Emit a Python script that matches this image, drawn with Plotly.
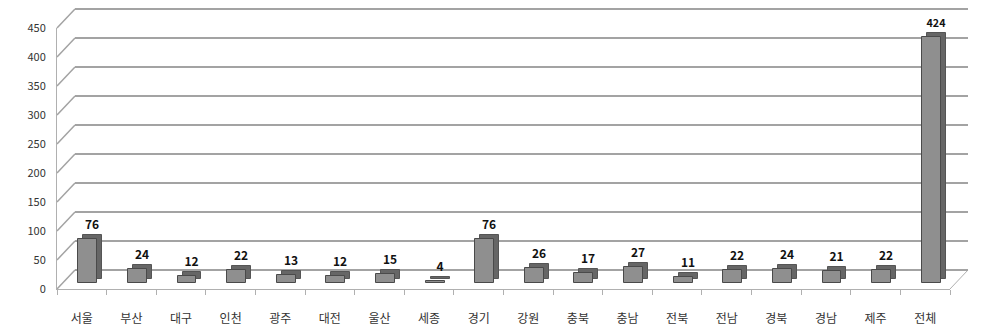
import plotly.graph_objects as go

# ---- data ----
regions = ["서울", "부산", "대구", "인천", "광주", "대전", "울산", "세종", "경기",
           "강원", "충북", "충남", "전북", "전남", "경북", "경남", "제주", "전체"]
counts = [76, 24, 12, 22, 13, 12, 15, 4, 76, 26, 17, 27, 11, 22, 24, 21, 22, 424]
y_ticks = list(range(0, 451, 50))

W, H = 981, 330
YMAX = 450
YMAX_BACK = 460  # headroom so the 450 gridline is drawn

def px_x(p):
    return p / W

def px_y(p):
    return 1 - p / H

# geometry (pixels): front axis plane, back wall plane, bar front/depth planes
FRONT = dict(x0=57, x1=950, ybot=289, ytop=28)
BACK = dict(x0=75, x1=968, ybot=270, ytop=9)
FACE = dict(x0=63, x1=956, ybot=283, ytop=22)
DEPTH = dict(x0=68, x1=961, ybot=279, ytop=18)

def dom(g, vmax=YMAX):
    span = (g["ybot"] - g["ytop"]) * vmax / YMAX
    return [px_x(g["x0"]), px_x(g["x1"])], [px_y(g["ybot"]), px_y(g["ybot"] - span)]

FONT = "Noto Sans CJK KR"
GRID = "#a3a3a3"
AXC = "#b0b0b0"

fig = go.Figure()

# depth (side/top) of bars
fig.add_trace(go.Bar(x=regions, y=counts, xaxis="x3", yaxis="y3", width=0.38,
                     marker=dict(color="#666666", line=dict(color="#555555", width=1)),
                     text=[str(c) for c in counts], textposition="outside",
                     textfont=dict(family=FONT, size=12, color="#111111", weight="bold"),
                     cliponaxis=False, hoverinfo="skip"))
# front faces of bars
fig.add_trace(go.Bar(x=regions, y=counts, xaxis="x4", yaxis="y4", width=0.38,
                     marker=dict(color="#8f8f8f", line=dict(color="#4a4a4a", width=1)),
                     hoverinfo="skip"))
# invisible trace for front axis
fig.add_trace(go.Scatter(x=regions, y=[None] * len(regions), xaxis="x2", yaxis="y2",
                         mode="markers", marker=dict(opacity=0), hoverinfo="skip"))
# invisible trace for back wall
fig.add_trace(go.Scatter(x=regions, y=[None] * len(regions), xaxis="x", yaxis="y",
                         mode="markers", marker=dict(opacity=0), hoverinfo="skip"))

bx, by = dom(BACK, YMAX_BACK)
fx, fy = dom(FRONT)
cx, cy = dom(FACE)
dx, dy = dom(DEPTH)

hidden_x = dict(type="category", range=[-0.5, len(regions) - 0.5], showgrid=False,
                showticklabels=False, showline=False, zeroline=False, ticks="",
                automargin=False)
hidden_y = dict(range=[0, YMAX], showgrid=False, showticklabels=False,
                showline=False, zeroline=False, ticks="", automargin=False)

fig.update_layout(
    template="none",
    width=W, height=H,
    margin=dict(l=0, r=0, t=0, b=0, pad=0, autoexpand=False),
    paper_bgcolor="white", plot_bgcolor="rgba(0,0,0,0)",
    showlegend=False, bargap=0,
    font=dict(family=FONT, size=11, color="#333333"),
    xaxis=dict(hidden_x, domain=bx, anchor="y"),
    yaxis=dict(range=[0, YMAX_BACK], domain=by, anchor="x", tickvals=y_ticks,
               showgrid=True, gridcolor=GRID, gridwidth=2, zeroline=True,
               zerolinecolor=GRID, zerolinewidth=2, showticklabels=False, ticks="",
               showline=False, automargin=False),
    xaxis2=dict(type="category", range=[-0.5, len(regions) - 0.5], domain=fx, anchor="y2",
                showgrid=False, showline=True, linecolor=AXC, linewidth=1, zeroline=False,
                ticks="outside", tickson="boundaries", ticklen=5, tickcolor=AXC,
                ticklabelstandoff=19, automargin=False,
                tickfont=dict(family=FONT, size=12, color="#333333")),
    yaxis2=dict(range=[0, YMAX], domain=fy, anchor="x2", tickvals=y_ticks,
                showgrid=False, showline=True, linecolor=AXC, linewidth=1,
                zeroline=False, ticks="", ticklabelstandoff=8, automargin=False,
                tickfont=dict(family=FONT, size=11, color="#333333")),
    xaxis3=dict(hidden_x, domain=dx, anchor="y3"),
    yaxis3=dict(hidden_y, domain=dy, anchor="x3"),
    xaxis4=dict(hidden_x, domain=cx, anchor="y4"),
    yaxis4=dict(hidden_y, domain=cy, anchor="x4"),
)

# diagonal connectors (left wall) from front axis ticks to back wall gridlines
def yfront(v):
    return FRONT["ybot"] - v * (FRONT["ybot"] - FRONT["ytop"]) / YMAX

def yback(v):
    return BACK["ybot"] - v * (BACK["ybot"] - BACK["ytop"]) / YMAX

shapes = []
for v in y_ticks:
    shapes.append(dict(type="line", xref="paper", yref="paper",
                       x0=px_x(FRONT["x0"]), y0=px_y(yfront(v)),
                       x1=px_x(BACK["x0"]), y1=px_y(yback(v)),
                       line=dict(color=GRID, width=1.5), layer="below"))
# floor right edge
shapes.append(dict(type="line", xref="paper", yref="paper",
                   x0=px_x(FRONT["x1"]), y0=px_y(FRONT["ybot"]),
                   x1=px_x(BACK["x1"]), y1=px_y(BACK["ybot"]),
                   line=dict(color=AXC, width=1), layer="below"))
fig.update_layout(shapes=shapes)

fig.write_html("out.html")
